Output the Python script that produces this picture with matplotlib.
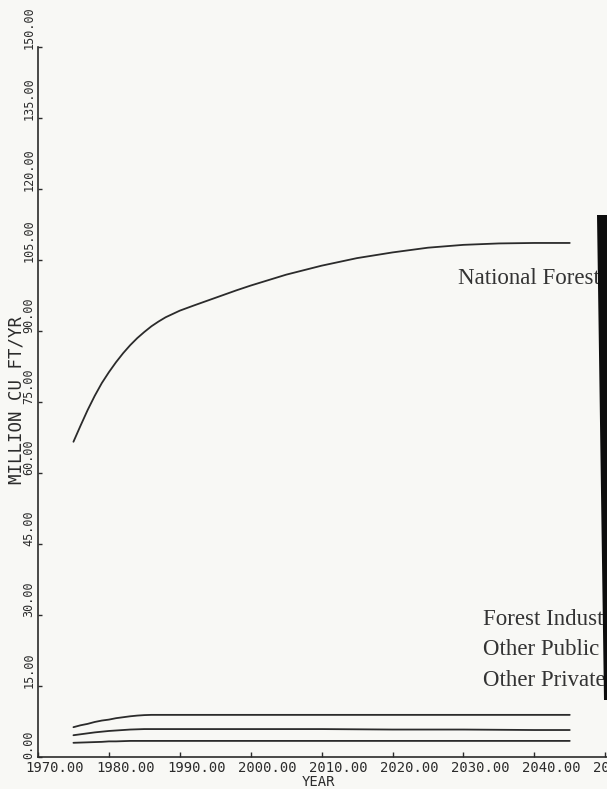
import matplotlib
matplotlib.use("Agg")
import matplotlib.pyplot as plt
from matplotlib.transforms import ScaledTranslation
from matplotlib.patches import Polygon

# ---- data ----
nf_years = [1975, 1976, 1977, 1978, 1979, 1980, 1981, 1982, 1983, 1984, 1985,
            1986, 1987, 1988, 1990, 1992, 1995, 1998, 2000, 2005, 2010, 2015,
            2020, 2025, 2030, 2035, 2040, 2045]
national_forest = [66.6, 70.0, 73.3, 76.3, 79.0, 81.3, 83.4, 85.3, 87.0, 88.5, 89.8,
                   91.0, 92.0, 92.9, 94.3, 95.4, 97.0, 98.6, 99.6, 101.9, 103.8, 105.4,
                   106.6, 107.6, 108.2, 108.5, 108.6, 108.6]

low_years = [1975, 1976, 1977, 1978, 1979, 1980, 1981, 1982, 1983, 1984, 1985, 1986,
             1990, 2000, 2010, 2020, 2030, 2040, 2045]
forest_industry = [6.3, 6.7, 7.0, 7.4, 7.7, 7.9, 8.2, 8.4, 8.6, 8.75, 8.85, 8.9,
                   8.9, 8.9, 8.9, 8.9, 8.9, 8.9, 8.9]
other_public = [4.6, 4.8, 5.0, 5.2, 5.35, 5.5, 5.6, 5.7, 5.8, 5.85, 5.9, 5.9,
                5.9, 5.9, 5.9, 5.8, 5.8, 5.7, 5.7]
other_private = [3.0, 3.05, 3.1, 3.15, 3.2, 3.3, 3.3, 3.35, 3.4, 3.4, 3.4, 3.4,
                 3.4, 3.4, 3.4, 3.4, 3.4, 3.4, 3.4]

x_ticks = [1970, 1980, 1990, 2000, 2010, 2020, 2030, 2040, 2050]
y_ticks = [0, 15, 30, 45, 60, 75, 90, 105, 120, 135, 150]
series_labels = ["National Forest", "Forest Industry", "Other Public", "Other Private"]

# ---- figure ----
W, H = 607, 789
BG = "#f8f8f5"
INK = "#2b2b2b"
fig = plt.figure(figsize=(W / 100, H / 100), dpi=100, facecolor=BG)

def fx(px):
    return px / W

def fy(py):
    return 1 - py / H

ax_left, ax_right, ax_top, ax_bottom = 38, 607, 47, 757
ax = fig.add_axes([fx(ax_left), fy(ax_bottom), fx(ax_right - ax_left), (ax_bottom - ax_top) / H])
ax.set_facecolor("none")
px_per_year = 7.09
ax.set_xlim(1970, 1970 + (ax_right - ax_left) / px_per_year)
ax.set_ylim(0, 150)

for s in ["top", "right"]:
    ax.spines[s].set_visible(False)
for s in ["left", "bottom"]:
    ax.spines[s].set_color(INK)
    ax.spines[s].set_linewidth(1.2)

lw = 1.3
for yy, xs in [(national_forest, nf_years), (forest_industry, low_years),
               (other_public, low_years), (other_private, low_years)]:
    ax.plot(xs, yy, color=INK, lw=lw, solid_joinstyle="round", solid_capstyle="round")

mono = "DejaVu Sans Mono"
ax.set_xticks(x_ticks)
ax.set_xticklabels([f"{v:.2f}" for v in x_ticks], fontsize=10, family=mono, color=INK)
ax.set_yticks(y_ticks)
ax.set_yticklabels([f"{v:.2f}" for v in y_ticks], fontsize=8.5, family=mono, color=INK)
ax.tick_params(axis="x", direction="in", length=3.5, width=1.0, color=INK, pad=3)
ax.tick_params(axis="y", direction="in", length=3.0, width=1.0, color=INK, pad=2)

char_w = 0.602 * 10 / 72
for lab in ax.get_xticklabels():
    lab.set_horizontalalignment("left")
    lab.set_transform(lab.get_transform() + ScaledTranslation(-1.5 * char_w, 0, fig.dpi_scale_trans))
for lab in ax.get_yticklabels():
    lab.set_rotation(90)
    lab.set_verticalalignment("bottom")
    lab.set_horizontalalignment("right")
    lab.set_transform(lab.get_transform() + ScaledTranslation(0, -0.02, fig.dpi_scale_trans))

fig.text(fx(17), fy(400), "MILLION CU FT/YR", rotation=90, ha="center", va="center",
         family=mono, fontsize=12.5, color=INK)
fig.text(fx(318), fy(782), "YEAR", ha="center", va="center",
         family=mono, fontsize=10, color=INK)

serif = "Liberation Serif"
label_pos = [(458, 284), (483, 625), (483, 655), (483, 686)]
for text, (px, py) in zip(series_labels, label_pos):
    fig.text(fx(px), fy(py), text, ha="left", va="baseline", family=serif,
             fontsize=16.5, color="#333333")

# dark page edge from the scan
edge = Polygon([(fx(597), fy(215)), (fx(607.5), fy(215)), (fx(607.5), fy(700)), (fx(604), fy(700))],
               closed=True, transform=fig.transFigure, facecolor="#0d0d0d", edgecolor="none", zorder=10)
fig.add_artist(edge)

fig.savefig("out.png", dpi=100, facecolor=BG)
